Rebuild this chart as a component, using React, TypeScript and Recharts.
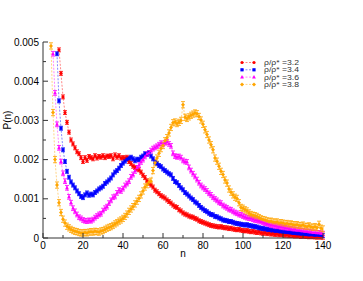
import React from 'react';
import { ComposedChart, Line, XAxis, YAxis, ErrorBar } from 'recharts';

// P(n) values in units of 1e-4, one per n starting at the given first n
const firstN = { r32: 8, r34: 7, r36: 5, r38: 4 };

const rho32 = [
  48, 42, 36, 32, 29.5, 27, 25, 24, 23, 22, 21.5, 20.5, 19.5, 20.5, 19.8, 20.8, 20.5, 20.2, 21, 20.4,
  20.8, 20.6, 21, 20.5, 20.9, 20.8, 21, 20.2, 21.2, 20.6, 21, 20.4, 20.5, 20.4, 20.6, 19.5, 19, 18.3, 18, 17.6,
  17.4, 16.8, 16, 15.4, 14.6, 14, 13.5, 13, 12.2, 11.8, 11.3, 10.8, 10.5, 10.2, 9.7, 9.3, 8.9, 8.4, 8.0, 7.8,
  7.2, 6.9, 6.4, 6.1, 5.9, 5.6, 5.4, 5.3, 5.0, 4.8, 4.4, 4.2, 4.0, 3.8, 3.6, 3.4, 3.2, 3.1, 3.0, 2.9,
  2.8, 2.9, 2.7, 2.6, 2.6, 2.4, 2.5, 2.3, 2.2, 2.1, 2.2, 2.0, 1.9, 1.8, 1.9, 1.7, 1.6, 1.7, 1.5, 1.4,
  1.5, 1.3, 1.2, 1.3, 1.1, 1.2, 1.0, 1.1, 0.9, 1.0, 0.8, 0.9, 0.8, 0.7, 0.8, 0.6, 0.7, 0.6, 0.5, 0.6,
  0.5, 0.4, 0.5, 0.4, 0.4, 0.3, 0.4, 0.3, 0.3, 0.2, 0.3, 0.2, 0.2,
];

const rho34 = [
  47, 35, 28, 22.5, 19.5, 17, 15.5, 14.3, 13.5, 12.8, 12, 11.3, 10.6, 10.3, 11, 11.5, 10.9, 11.2, 11, 11.6,
  12, 12.5, 12.8, 13.2, 13.9, 14.3, 14.8, 15.3, 16.1, 16.8, 17.2, 17.8, 18.5, 19.1, 19.6, 20.1, 20.3, 20.6, 20.2, 19.7,
  20.1, 20, 20.6, 20.9, 21.5, 21.3, 21.8, 20.9, 20.2, 19.4, 19, 18.5, 18.2, 17.6, 17.2, 16.8, 16.4, 16.1, 15.2, 14.4,
  14.1, 13.4, 12.8, 12.3, 11.6, 11.2, 10.7, 10.2, 9.8, 9.2, 8.9, 8.3, 7.8, 7.4, 7.0, 6.7, 6.3, 6.0, 5.9, 5.5,
  5.4, 5.1, 4.9, 4.6, 4.5, 4.4, 4.2, 4.2, 4.0, 3.8, 3.7, 3.6, 3.5, 3.4, 3.3, 3.4, 3.2, 3.1, 3.0, 2.9,
  2.8, 2.6, 2.5, 2.4, 2.3, 2.2, 2.1, 2.0, 1.9, 1.8, 1.8, 1.7, 1.6, 1.5, 1.5, 1.4, 1.4, 1.3, 1.2, 1.2,
  1.1, 1.1, 1.0, 1.0, 0.9, 0.9, 0.8, 0.9, 0.8, 0.7, 0.8, 0.7, 0.7, 0.6,
];

const rho36 = [
  47, 37, 29, 23, 19.5, 16.5, 14.5, 12.8, 10.5, 9.0, 7.6, 6.8, 6.0, 5.3, 5.0, 4.6, 4.4, 4.3, 4.5, 4.4,
  4.7, 5.2, 5.6, 6.0, 6.2, 7.0, 7.6, 8.0, 8.9, 9.6, 10.4, 10.6, 11.5, 12.2, 12.0, 12.6, 13.4, 13.9, 14.5, 15.6,
  16.2, 17.1, 17.9, 18.6, 19.4, 20, 20.8, 21.4, 21.7, 22.3, 22.8, 23.1, 23.4, 23.8, 24.2, 23.9, 24.3, 24.5, 24.0, 23.5,
  21.6, 20.9, 20.7, 20.8, 20.5, 19.8, 19.5, 19.4, 18.0, 17.2, 16.4, 15.7, 14.9, 14.1, 13.4, 12.9, 12.5, 12.0, 11.4, 11.0,
  10.4, 10.0, 9.6, 9.1, 8.9, 8.3, 8.0, 7.7, 7.3, 7.2, 6.8, 6.5, 6.3, 6.0, 5.9, 5.6, 5.4, 5.2, 5.1, 5.0,
  4.8, 4.6, 4.5, 4.4, 4.2, 4.0, 3.8, 3.7, 3.5, 3.3, 3.2, 3.1, 3.0, 2.9, 2.8, 2.7, 2.6, 2.5, 2.4, 2.3,
  2.2, 2.2, 2.0, 2.0, 1.9, 1.8, 1.7, 1.7, 1.6, 1.5, 1.4, 1.4, 1.3, 1.3, 1.2, 1.1,
];

const rho38 = [
  49, 32, 20, 13.5, 9.0, 6.5, 4.8, 3.8, 3.0, 2.6, 2.2, 1.9, 1.7, 1.6, 1.4, 1.3, 1.3, 1.4, 1.3, 1.5,
  1.6, 1.5, 1.7, 1.6, 1.5, 1.8, 1.9, 2.2, 2.5, 2.7, 2.9, 3.2, 3.6, 3.9, 4.3, 4.6, 5.0, 5.5, 6.1, 6.8,
  7.4, 8.0, 8.7, 9.4, 10.1, 11.0, 12.0, 13.0, 13.6, 14.2, 14.5, 17.2, 19.2, 20.4, 21.6, 22.8, 23.6, 24.8, 25.6, 26.8,
  28.2, 29.4, 29.6, 29.2, 29.5, 30.0, 34.0, 30.8, 30.5, 30.9, 31.3, 31.6, 31.9, 31.7, 31.0, 30.1, 29.0, 27.6, 26.4, 25.0,
  23.8, 22.5, 20.4, 19.6, 18.3, 17.0, 16.2, 14.8, 14.0, 12.5, 11.7, 11.0, 10.4, 10.1, 9.0, 7.8, 7.6, 7.2, 6.9, 6.4,
  6.0, 5.8, 5.7, 5.5, 5.2, 4.9, 4.7, 4.6, 4.4, 4.2, 4.3, 4.1, 4.0, 4.1, 3.8, 3.9, 3.8, 3.6, 3.7, 3.5,
  3.6, 3.4, 3.3, 3.4, 3.2, 3.1, 3.3, 3.0, 2.9, 3.1, 2.8, 2.7, 2.9, 2.6, 3.5, 2.5, 2.3,
];

// half-length of the error bars, same units
const errors = { r32: 0.5, r34: 0.5, r36: 0.6, r38: 0.8 };

const xTicks = [0, 10, 20, 30, 40, 50, 60, 70, 80, 90, 100, 110, 120, 130, 140];
const yTicks = [0, 5, 10, 15, 20, 25, 30, 35, 40, 45, 50];
const legendValues = ['3.2', '3.4', '3.6', '3.8'];

const series = [
  { key: 'r32', values: rho32, color: '#ff0000', shape: 'circle' },
  { key: 'r34', values: rho34, color: '#0000ff', shape: 'square' },
  { key: 'r36', values: rho36, color: '#ff00ff', shape: 'triangle' },
  { key: 'r38', values: rho38, color: '#ffa500', shape: 'diamond' },
];

const rows: any[] = [];
for (let n = 4; n <= 140; n++) {
  const row: any = { n };
  series.forEach((s) => {
    const start = (firstN as any)[s.key];
    const v = s.values[n - start];
    if (n >= start && v !== undefined) {
      row[s.key] = v;
      row[s.key + 'Err'] = (errors as any)[s.key];
    }
  });
  rows.push(row);
}

const FONT = '"Liberation Sans", Arial, sans-serif';
const AXIS = '#333';

const Marker = ({ cx, cy, shape, color }: any) => {
  if (cx == null || cy == null || isNaN(cx) || isNaN(cy)) return null;
  if (shape === 'circle') return <circle cx={cx} cy={cy} r={1.6} fill={color} />;
  if (shape === 'square') return <rect x={cx - 1.6} y={cy - 1.6} width={3.2} height={3.2} fill={color} />;
  if (shape === 'triangle')
    return <polygon points={`${cx},${cy - 2} ${cx - 1.9},${cy + 1.4} ${cx + 1.9},${cy + 1.4}`} fill={color} />;
  return <polygon points={`${cx},${cy - 2} ${cx + 2},${cy} ${cx},${cy + 2} ${cx - 2},${cy}`} fill={color} />;
};

const BottomTick = ({ x, y, payload }: any) => {
  const major = payload.value % 20 === 0;
  return (
    <g>
      <line x1={x} y1={y} x2={x} y2={y - (major ? 5 : 3)} stroke={AXIS} />
      {major && (
        <text x={x} y={y + 11} textAnchor="middle" fontSize={10} fontFamily={FONT} fill="#000">
          {payload.value}
        </text>
      )}
    </g>
  );
};

const TopTick = ({ x, y, payload }: any) => {
  const major = payload.value % 20 === 0;
  return <line x1={x} y1={y} x2={x} y2={y + (major ? 5 : 3)} stroke={AXIS} />;
};

const LeftTick = ({ x, y, payload }: any) => {
  const major = payload.value % 10 === 0;
  return (
    <g>
      <line x1={x} y1={y} x2={x + (major ? 5 : 3)} y2={y} stroke={AXIS} />
      {major && (
        <text x={x - 4} y={y + 3.5} textAnchor="end" fontSize={10} fontFamily={FONT} fill="#000">
          {payload.value === 0 ? '0' : (payload.value / 10000).toFixed(3)}
        </text>
      )}
    </g>
  );
};

const RightTick = ({ x, y, payload }: any) => {
  const major = payload.value % 10 === 0;
  return <line x1={x} y1={y} x2={x - (major ? 5 : 3)} y2={y} stroke={AXIS} />;
};

export default function App() {
  return (
    <div style={{ position: 'absolute', left: 0, top: 0, width: 363, height: 281, background: '#fff' }}>
      <ComposedChart width={363} height={281} data={rows} margin={{ top: 42, right: 40, left: 0, bottom: 0 }}>
        <XAxis
          dataKey="n"
          type="number"
          domain={[0, 140]}
          ticks={xTicks}
          allowDataOverflow
          height={43}
          tickSize={0}
          tickMargin={0}
          tickLine={false}
          axisLine={{ stroke: AXIS }}
          tick={<BottomTick />}
          interval={0}
        />
        <XAxis
          xAxisId="top"
          orientation="top"
          type="number"
          domain={[0, 140]}
          ticks={xTicks}
          allowDataOverflow
          height={0}
          tickSize={0}
          tickMargin={0}
          tickLine={false}
          axisLine={{ stroke: AXIS }}
          tick={<TopTick />}
          interval={0}
        />
        <YAxis
          type="number"
          domain={[0, 50]}
          ticks={yTicks}
          allowDataOverflow
          width={43}
          tickSize={0}
          tickMargin={0}
          tickLine={false}
          axisLine={{ stroke: AXIS }}
          tick={<LeftTick />}
          interval={0}
        />
        <YAxis
          yAxisId="right"
          orientation="right"
          type="number"
          domain={[0, 50]}
          ticks={yTicks}
          allowDataOverflow
          width={0}
          tickSize={0}
          tickMargin={0}
          tickLine={false}
          axisLine={{ stroke: AXIS }}
          tick={<RightTick />}
          interval={0}
        />
        {series.map((s) => (
          <Line
            key={s.key}
            dataKey={s.key}
            type="linear"
            stroke={s.color}
            strokeOpacity={0.6}
            strokeWidth={0.8}
            strokeDasharray="2 1.5"
            isAnimationActive={false}
            connectNulls={false}
            dot={(p: any) => <Marker key={`${s.key}-${p.index}`} cx={p.cx} cy={p.cy} shape={s.shape} color={s.color} />}
            activeDot={false}
          >
            <ErrorBar dataKey={s.key + 'Err'} direction="y" width={2} stroke={s.color} strokeWidth={0.8} />
          </Line>
        ))}
      </ComposedChart>
      <svg width={363} height={281} style={{ position: 'absolute', left: 0, top: 0, pointerEvents: 'none' }}>
        <text x={183} y={257} textAnchor="middle" fontSize={10} fontFamily={FONT} fill="#000">
          n
        </text>
        <text
          x={11}
          y={120}
          transform="rotate(-90 11 120)"
          textAnchor="middle"
          fontSize={10}
          fontFamily={FONT}
          fill="#000"
        >
          P(n)
        </text>
        {series.map((s, i) => {
          const cy = 62.5 + i * 7.3;
          return (
            <g key={s.key}>
              <line x1={242} y1={cy} x2={254} y2={cy} stroke={s.color} strokeOpacity={0.6} strokeDasharray="2 1.5" strokeWidth={0.8} />
              <Marker cx={242} cy={cy} shape={s.shape} color={s.color} />
              <Marker cx={254} cy={cy} shape={s.shape} color={s.color} />
              <text
                x={264}
                y={cy + 2.6}
                fontSize={7}
                fontFamily={FONT}
                fill="#333"
                textLength={35}
                lengthAdjust="spacingAndGlyphs"
              >
                ρ/ρ* ={legendValues[i]}
              </text>
            </g>
          );
        })}
      </svg>
    </div>
  );
}
